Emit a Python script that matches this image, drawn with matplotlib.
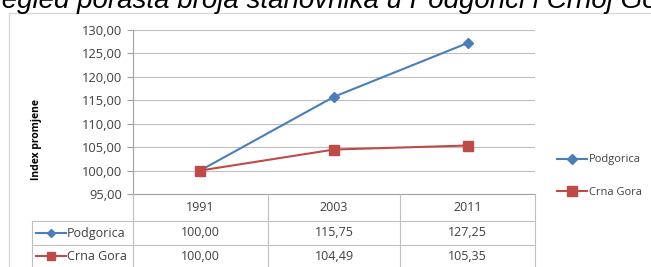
import matplotlib.pyplot as plt
from matplotlib.lines import Line2D

# data
years = ['1991', '2003', '2011']
podgorica = [100.00, 115.75, 127.25]
crna_gora = [100.00, 104.49, 105.35]
series_names = ['Podgorica', 'Crna Gora']
y_ticks = [95, 100, 105, 110, 115, 120, 125, 130]
title = 'Pregled porasta broja stanovnika u Podgorici i Crnoj Gori'

blue = '#4a7ebb'
red = '#be4b48'
grid_c = '#bfbfbf'
txt_c = '#404040'
W, H = 651, 267

plt.rcParams['font.family'] = ['Open Sans', 'DejaVu Sans']

fig = plt.figure(figsize=(W / 100, H / 100), dpi=100)


def fx(px):
    return px / W


def fy(py):
    return 1 - py / H


def fmt(v):
    return f'{v:.2f}'.replace('.', ',')


# cropped caption at the very top
fig.text(fx(-26), fy(8), title, fontsize=20, style='italic',
         family='Liberation Sans', ha='left', va='baseline')

# outer chart frame
fig.add_artist(Line2D([fx(9), fx(9)], [fy(13), fy(H)], color='#d9d9d9', lw=1))
fig.add_artist(Line2D([fx(9), fx(W)], [fy(13), fy(13)], color='#d9d9d9', lw=1))

left, right, top, bottom = 133, 535, 30, 194
ax = fig.add_axes([fx(left), fy(bottom), fx(right - left), fy(top) - fy(bottom)])
x = [0.5, 1.5, 2.5]
ax.set_xlim(0, 3)
ax.set_ylim(95, 130)
ax.set_yticks(y_ticks)
ax.set_yticklabels([fmt(v) for v in y_ticks], fontsize=9.3, color=txt_c)
ax.set_xticks([])
ax.grid(axis='y', color=grid_c, lw=0.8)
ax.set_axisbelow(True)
for s in ['top', 'right']:
    ax.spines[s].set_visible(False)
ax.spines['left'].set_color('#a0a0a0')
ax.spines['bottom'].set_color('#a0a0a0')
ax.tick_params(axis='y', length=4, color='#a0a0a0', pad=4)
ax.set_ylabel('Index promjene', fontsize=7.5, fontweight='bold')
ax.yaxis.set_label_coords(-0.226, 0.33)

ax.plot(x, podgorica, color=blue, lw=1.5, marker='D', ms=5, label=series_names[0])
ax.plot(x, crna_gora, color=red, lw=1.5, marker='s', ms=7, label=series_names[1])

# legend on the right
leg = fig.legend(loc='upper left', bbox_to_anchor=(fx(553), fy(150)), frameon=False,
                 fontsize=8, handlelength=2.7, labelspacing=1.9, handletextpad=0.15,
                 borderaxespad=0, labelcolor=txt_c)

# data table under the plot
col_x = [left, 268, 400, right]
row_y = [bottom, 221, 245, H + 2]
tc = '#bfbfbf'
for cx in col_x:
    fig.add_artist(Line2D([fx(cx)] * 2, [fy(row_y[0]), fy(row_y[-1])], color=tc, lw=0.8))
fig.add_artist(Line2D([fx(32)] * 2, [fy(row_y[1]), fy(row_y[-1])], color=tc, lw=0.8))
fig.add_artist(Line2D([fx(32), fx(right)], [fy(row_y[1])] * 2, color=tc, lw=0.8))
fig.add_artist(Line2D([fx(32), fx(right)], [fy(row_y[2])] * 2, color=tc, lw=0.8))

for i, yr in enumerate(years):
    cxm = (col_x[i] + col_x[i + 1]) / 2
    fig.text(fx(cxm), fy((row_y[0] + row_y[1]) / 2), yr, ha='center', va='center',
             fontsize=9, color=txt_c)
    fig.text(fx(cxm), fy((row_y[1] + row_y[2]) / 2), fmt(podgorica[i]),
             ha='center', va='center', fontsize=9, color=txt_c)
    fig.text(fx(cxm), fy((row_y[2] + H) / 2), fmt(crna_gora[i]),
             ha='center', va='center', fontsize=9, color=txt_c)

for name, col, mk, ms, yy in [(series_names[0], blue, 'D', 4, (row_y[1] + row_y[2]) / 2),
                               (series_names[1], red, 's', 6, (row_y[2] + H) / 2)]:
    fig.add_artist(Line2D([fx(36), fx(66)], [fy(yy)] * 2, color=col, lw=1.5))
    fig.add_artist(Line2D([fx(51)], [fy(yy)], color=col, marker=mk, ms=ms))
    fig.text(fx(67), fy(yy), name, ha='left', va='center', fontsize=9, color=txt_c)

fig.savefig('out.png', dpi=100)
